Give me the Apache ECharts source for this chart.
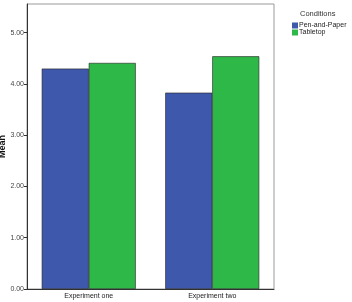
<!DOCTYPE html>
<html>
<head>
<meta charset="utf-8">
<script src="https://cdn.jsdelivr.net/npm/echarts@6/dist/echarts.min.js"></script>
<style>
  html, body { margin: 0; padding: 0; background: #fff; }
  #chart { width: 352px; height: 302px; }
</style>
</head>
<body>
<div id="chart"></div>
<script>
  // data
  let categories = ['Experiment one', 'Experiment two'];
  let penAndPaper = [4.30, 3.83];
  let tabletop = [4.41, 4.54];
  let yTicks = [0, 1, 2, 3, 4, 5];

  let chart = echarts.init(document.getElementById('chart'));
  let font = 'Liberation Sans, Arial, sans-serif';

  let option = {
    animation: false,
    textStyle: { fontFamily: font },
    grid: {
      left: 27, right: 78, top: 4, bottom: 13,
      outerBoundsMode: 'none',
      containLabel: false,
      show: true,
      borderColor: '#9a9a9a',
      borderWidth: 1,
    },
    legend: {
      data: ['Pen-and-Paper', 'Tabletop'],
      orient: 'vertical',
      left: 287, top: 17,
      itemWidth: 6, itemHeight: 6,
      itemGap: 0,
      icon: 'rect',
      itemStyle: { borderWidth: 0 },
      textStyle: { fontSize: 7, color: '#222', padding: [0, 0, 0, -4] },
    },
    graphic: [{
      type: 'text',
      left: 300, top: 10,
      style: { text: 'Conditions', font: '7.5px ' + font, fill: '#333' },
    }],
    xAxis: {
      type: 'category',
      data: categories,
      axisLine: { lineStyle: { color: '#333' } },
      axisTick: { alignWithLabel: true, length: 3, lineStyle: { color: '#333' } },
      axisLabel: { fontSize: 7, color: '#222', margin: 4 },
    },
    yAxis: {
      type: 'value',
      min: 0, max: 5.56,
      interval: 1,
      name: 'Mean',
      nameLocation: 'middle',
      nameGap: 19.5,
      nameMoveOverlap: false,
      nameTextStyle: { fontSize: 9, fontWeight: 'bold', color: '#111' },
      axisLine: { show: true, lineStyle: { color: '#333' } },
      axisTick: { show: true, length: 3, customValues: yTicks, lineStyle: { color: '#333' } },
      axisLabel: {
        fontSize: 7, color: '#444', margin: 3,
        customValues: yTicks,
        formatter: v => v.toFixed(2),
      },
      splitLine: { show: false },
    },
    series: [
      {
        name: 'Pen-and-Paper',
        type: 'bar',
        data: penAndPaper,
        barWidth: 47,
        barGap: '0%',
        itemStyle: { color: '#3e58ac', borderColor: '#222', borderWidth: 0.6 },
      },
      {
        name: 'Tabletop',
        type: 'bar',
        data: tabletop,
        barWidth: 47,
        itemStyle: { color: '#2eb848', borderColor: '#222', borderWidth: 0.6 },
      },
    ],
  };

  chart.setOption(option);
</script>
</body>
</html>
